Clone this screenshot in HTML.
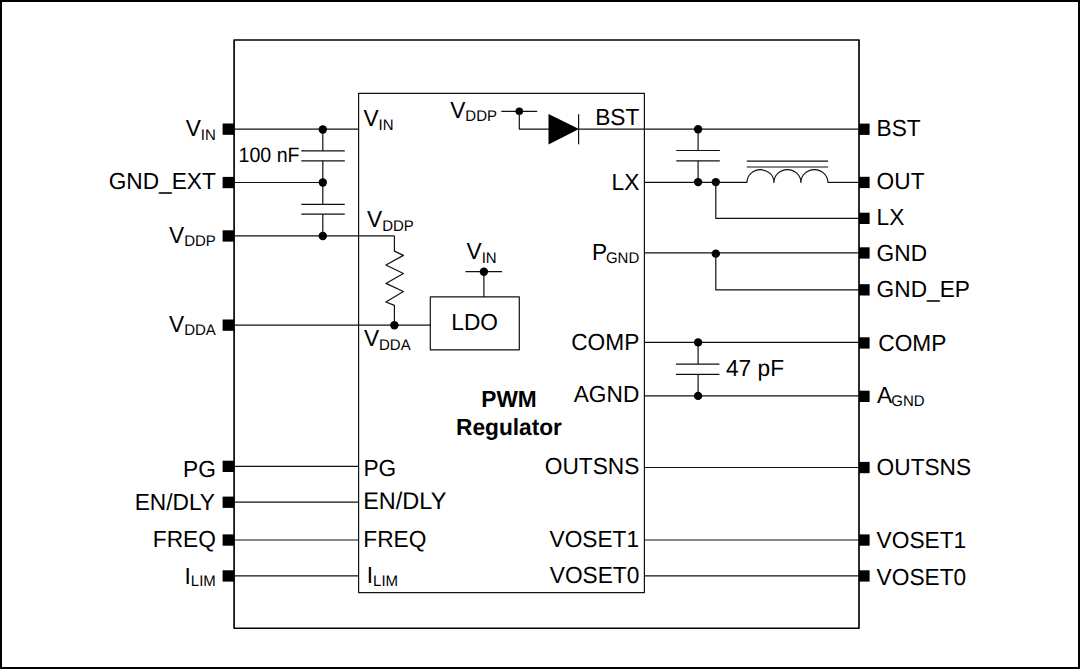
<!DOCTYPE html>
<html lang="en"><head><meta charset="utf-8"><title>PWM Regulator block diagram</title>
<style>
html,body{margin:0;padding:0;background:#fff;}
body{width:1080px;height:669px;overflow:hidden;position:relative;}
#frame{position:absolute;left:0;top:0;width:1080px;height:669px;box-sizing:border-box;border:2px solid #000;border-top-width:2px;}
svg{position:absolute;left:0;top:0;display:block;}
svg line,svg .p,svg .n,svg .o{stroke:#111;stroke-width:1.2;fill:none;stroke-linejoin:round;}
svg .o{stroke:#000;stroke-width:1.65;stroke-linejoin:round;}
svg .f{fill:#000;stroke:none;}
svg text{font-family:"Liberation Sans",sans-serif;fill:#000;text-rendering:geometricPrecision;}
.t{font-size:22.7px;}
.s{font-size:15.0px;}
.b{font-size:22.7px;font-weight:bold;}
</style></head><body>
<div id="frame"></div>
<svg width="1080" height="669" viewBox="0 0 1080 669">
<rect x="234.1" y="40" width="624.9" height="588.2" class="o"/>
<rect x="358.6" y="93.4" width="285.79999999999995" height="499.20000000000005" class="n"/>
<rect x="222.6" y="123.5" width="11.4" height="11.3" class="f"/>
<rect x="222.6" y="176.9" width="11.4" height="11.3" class="f"/>
<rect x="222.6" y="230.3" width="11.4" height="11.3" class="f"/>
<rect x="222.6" y="319.5" width="11.4" height="11.3" class="f"/>
<rect x="222.6" y="460.7" width="11.4" height="11.3" class="f"/>
<rect x="222.6" y="496.59999999999997" width="11.4" height="11.3" class="f"/>
<rect x="222.6" y="534.4" width="11.4" height="11.3" class="f"/>
<rect x="222.6" y="570.3" width="11.4" height="11.3" class="f"/>
<line x1="234.1" y1="129.1" x2="358.6" y2="129.1"/>
<line x1="234.1" y1="182.5" x2="322.8" y2="182.5"/>
<line x1="234.1" y1="235.9" x2="394.4" y2="235.9"/>
<line x1="234.1" y1="325.1" x2="430.3" y2="325.1"/>
<line x1="234.1" y1="466.3" x2="358.6" y2="466.3"/>
<line x1="234.1" y1="502.2" x2="358.6" y2="502.2"/>
<line x1="234.1" y1="540" x2="358.6" y2="540"/>
<line x1="234.1" y1="575.9" x2="358.6" y2="575.9"/>
<line x1="322.8" y1="129.1" x2="322.8" y2="150.9"/>
<line x1="301.3" y1="150.9" x2="344.8" y2="150.9"/>
<line x1="301.3" y1="160.8" x2="344.8" y2="160.8"/>
<line x1="322.8" y1="160.8" x2="322.8" y2="204.3"/>
<line x1="301.3" y1="204.3" x2="344.8" y2="204.3"/>
<line x1="301.3" y1="214.2" x2="344.8" y2="214.2"/>
<line x1="322.8" y1="214.2" x2="322.8" y2="235.9"/>
<circle cx="322.8" cy="129.5" r="4.2" class="f"/>
<circle cx="322.8" cy="182.5" r="4.2" class="f"/>
<circle cx="322.8" cy="236.0" r="4.2" class="f"/>
<polyline points="394.4,235.9 394.4,251.1 403.4,255.4 385.9,265 403.4,273.5 385.9,283.4 403.4,291.5 385.9,302 394.4,305.4 394.4,325.1" class="p"/>
<circle cx="394.4" cy="325.20000000000005" r="4.2" class="f"/>
<rect x="430.3" y="296.9" width="89" height="52.9" class="n"/>
<text transform="translate(474.6,329.6) scale(1,1.025)" text-anchor="middle" class="t">LDO</text>
<line x1="465.5" y1="271.7" x2="502" y2="271.7"/>
<line x1="483.9" y1="271.7" x2="483.9" y2="296.9"/>
<circle cx="483.9" cy="271.8" r="4.2" class="f"/>
<text transform="translate(466.5,259.4) scale(1,1.025)" text-anchor="start" class="t">V<tspan class="s" dy="3.2" dx="0">IN</tspan></text>
<text transform="translate(450.2,117.8) scale(1,1.025)" text-anchor="start" class="t">V<tspan class="s" dy="3.3" dx="0">DDP</tspan></text>
<line x1="501.3" y1="111.3" x2="537.2" y2="111.3"/>
<circle cx="519.3" cy="111.3" r="3.8" class="f"/>
<polyline points="519.3,111.3 519.3,129.1 549,129.1" class="p"/>
<polygon points="548.5,113.9 579,129.1 548.5,144.5" class="f"/>
<line x1="578.6" y1="114.2" x2="578.6" y2="144.3"/>
<line x1="578.6" y1="129.2" x2="859" y2="129.2"/>
<rect x="859" y="123.6" width="10.6" height="11.3" class="f"/>
<rect x="859" y="176.8" width="10.6" height="11.3" class="f"/>
<rect x="859" y="212.70000000000002" width="10.6" height="11.3" class="f"/>
<rect x="859" y="247.3" width="10.6" height="11.3" class="f"/>
<rect x="859" y="284.2" width="10.6" height="11.3" class="f"/>
<rect x="859" y="337.29999999999995" width="10.6" height="11.3" class="f"/>
<rect x="859" y="390.69999999999993" width="10.6" height="11.3" class="f"/>
<rect x="859" y="461.9" width="10.6" height="11.3" class="f"/>
<rect x="859" y="534.4" width="10.6" height="11.3" class="f"/>
<rect x="859" y="570.3" width="10.6" height="11.3" class="f"/>
<line x1="698.1" y1="129.2" x2="698.1" y2="150.5"/>
<line x1="676.3" y1="150.5" x2="719.8" y2="150.5"/>
<line x1="676.3" y1="160.9" x2="719.8" y2="160.9"/>
<line x1="698.1" y1="160.9" x2="698.1" y2="182.4"/>
<circle cx="698.1" cy="129.29999999999998" r="4.2" class="f"/>
<circle cx="698.1" cy="182.1" r="4.2" class="f"/>
<circle cx="715.8" cy="182.1" r="4.2" class="f"/>
<line x1="644.4" y1="182.4" x2="747.0" y2="182.4"/>
<path d="M747.0,182.4 a13.475,12.7 0 0 1 26.95,0 a13.475,12.7 0 0 1 26.95,0 a13.475,12.7 0 0 1 26.95,0" class="p"/>
<line x1="827.85" y1="182.4" x2="859" y2="182.4"/>
<line x1="746.8" y1="161.2" x2="828.1" y2="161.2"/>
<line x1="746.8" y1="167.0" x2="828.1" y2="167.0"/>
<polyline points="715.8,182.4 715.8,218.3 859,218.3" class="p"/>
<line x1="644.4" y1="252.9" x2="859" y2="252.9"/>
<circle cx="715.8" cy="253.6" r="4.2" class="f"/>
<polyline points="715.8,252.9 715.8,289.8 859,289.8" class="p"/>
<line x1="644.4" y1="342.4" x2="859" y2="342.4"/>
<line x1="644.4" y1="395.9" x2="859" y2="395.9"/>
<line x1="698.1" y1="342.4" x2="698.1" y2="364.1"/>
<line x1="676" y1="364.1" x2="719.4" y2="364.1"/>
<line x1="676" y1="374.3" x2="719.4" y2="374.3"/>
<line x1="698.1" y1="374.3" x2="698.1" y2="395.9"/>
<circle cx="698.1" cy="342.4" r="4.2" class="f"/>
<circle cx="698.1" cy="395.9" r="4.2" class="f"/>
<line x1="644.4" y1="467.5" x2="859" y2="467.5"/>
<line x1="644.4" y1="540" x2="859" y2="540"/>
<line x1="644.4" y1="575.9" x2="859" y2="575.9"/>
<text transform="translate(215.8,135.9) scale(1,1.025)" text-anchor="end" class="t">V<tspan class="s" dy="3.6" dx="0">IN</tspan></text>
<text transform="translate(215.8,189.2) scale(1,1.025)" text-anchor="end" class="t">GND_EXT</text>
<text transform="translate(215.8,242.6) scale(1,1.025)" text-anchor="end" class="t">V<tspan class="s" dy="3.6" dx="0">DDP</tspan></text>
<text transform="translate(215.8,331.8) scale(1,1.025)" text-anchor="end" class="t">V<tspan class="s" dy="3.0" dx="0">DDA</tspan></text>
<text transform="translate(215.8,477.0) scale(1,1.025)" text-anchor="end" class="t">PG</text>
<text transform="translate(215.0,510) scale(1,1.025)" text-anchor="end" class="t">EN/DLY</text>
<text transform="translate(215.8,546.5) scale(1,1.025)" text-anchor="end" class="t">FREQ</text>
<text transform="translate(215.8,583.6) scale(1,1.025)" text-anchor="end" class="t">I<tspan class="s" dy="2.8" dx="0">LIM</tspan></text>
<text transform="translate(363.4,126.4) scale(1,1.025)" text-anchor="start" class="t">V<tspan class="s" dy="3.3" dx="0">IN</tspan></text>
<text transform="translate(367,227.2) scale(1,1.025)" text-anchor="start" class="t">V<tspan class="s" dy="3.6" dx="0">DDP</tspan></text>
<text transform="translate(363.9,345.8) scale(1,1.025)" text-anchor="start" class="t">V<tspan class="s" dy="4.4" dx="0">DDA</tspan></text>
<text transform="translate(363.4,475.9) scale(1,1.025)" text-anchor="start" class="t">PG</text>
<text transform="translate(363.2,509.0) scale(1,1.025)" text-anchor="start" class="t" style="font-size:23.5px">EN/DLY</text>
<text transform="translate(363.3,546.5) scale(1,1.025)" text-anchor="start" class="t">FREQ</text>
<text transform="translate(366.8,583) scale(1,1.025)" text-anchor="start" class="t">I<tspan class="s" dy="2.5" dx="0">LIM</tspan></text>
<text transform="translate(639.3,124.7) scale(1,1.025)" text-anchor="end" class="t">BST</text>
<text transform="translate(639.3,190) scale(1,1.025)" text-anchor="end" class="t">LX</text>
<text transform="translate(639.3,259.6) scale(1,1.025)" text-anchor="end" class="t">P<tspan class="s" dy="3.2" dx="-1.1">GND</tspan></text>
<text transform="translate(639.3,350) scale(1,1.025)" text-anchor="end" class="t">COMP</text>
<text transform="translate(639.3,401.8) scale(1,1.025)" text-anchor="end" class="t">AGND</text>
<text transform="translate(639.3,474) scale(1,1.025)" text-anchor="end" class="t">OUTSNS</text>
<text transform="translate(639.0999999999999,547.2) scale(1,1.025)" text-anchor="end" class="t">VOSET1</text>
<text transform="translate(639.3,582.8) scale(1,1.025)" text-anchor="end" class="t">VOSET0</text>
<text transform="translate(876.6,135.9) scale(1,1.025)" text-anchor="start" class="t">BST</text>
<text transform="translate(876.6,189.2) scale(1,1.025)" text-anchor="start" class="t">OUT</text>
<text transform="translate(876.6,225.4) scale(1,1.025)" text-anchor="start" class="t">LX</text>
<text transform="translate(876.6,261.3) scale(1,1.025)" text-anchor="start" class="t">GND</text>
<text transform="translate(876.6,296.6) scale(1,1.025)" text-anchor="start" class="t">GND_EP</text>
<text transform="translate(878.3000000000001,351) scale(1,1.025)" text-anchor="start" class="t">COMP</text>
<text transform="translate(877.0,403.1) scale(1,1.025)" text-anchor="start" class="t">A<tspan class="s" dy="3.3" dx="-0.9">GND</tspan></text>
<text transform="translate(876.6,475.2) scale(1,1.025)" text-anchor="start" class="t">OUTSNS</text>
<text transform="translate(876.6,547.7) scale(1,1.025)" text-anchor="start" class="t">VOSET1</text>
<text transform="translate(876.6,584.8) scale(1,1.025)" text-anchor="start" class="t">VOSET0</text>
<text transform="translate(726,376) scale(1,1.025)" text-anchor="start" class="t">47 pF</text>
<text transform="translate(238.5,161.7) scale(1,1.06)" class="t" style="font-size:19.6px">100 nF</text>
<text transform="translate(509,407) scale(1,1.025)" text-anchor="middle" class="b">PWM</text>
<text transform="translate(509,435) scale(1,1.025)" text-anchor="middle" class="b">Regulator</text>
</svg>
</body></html>
